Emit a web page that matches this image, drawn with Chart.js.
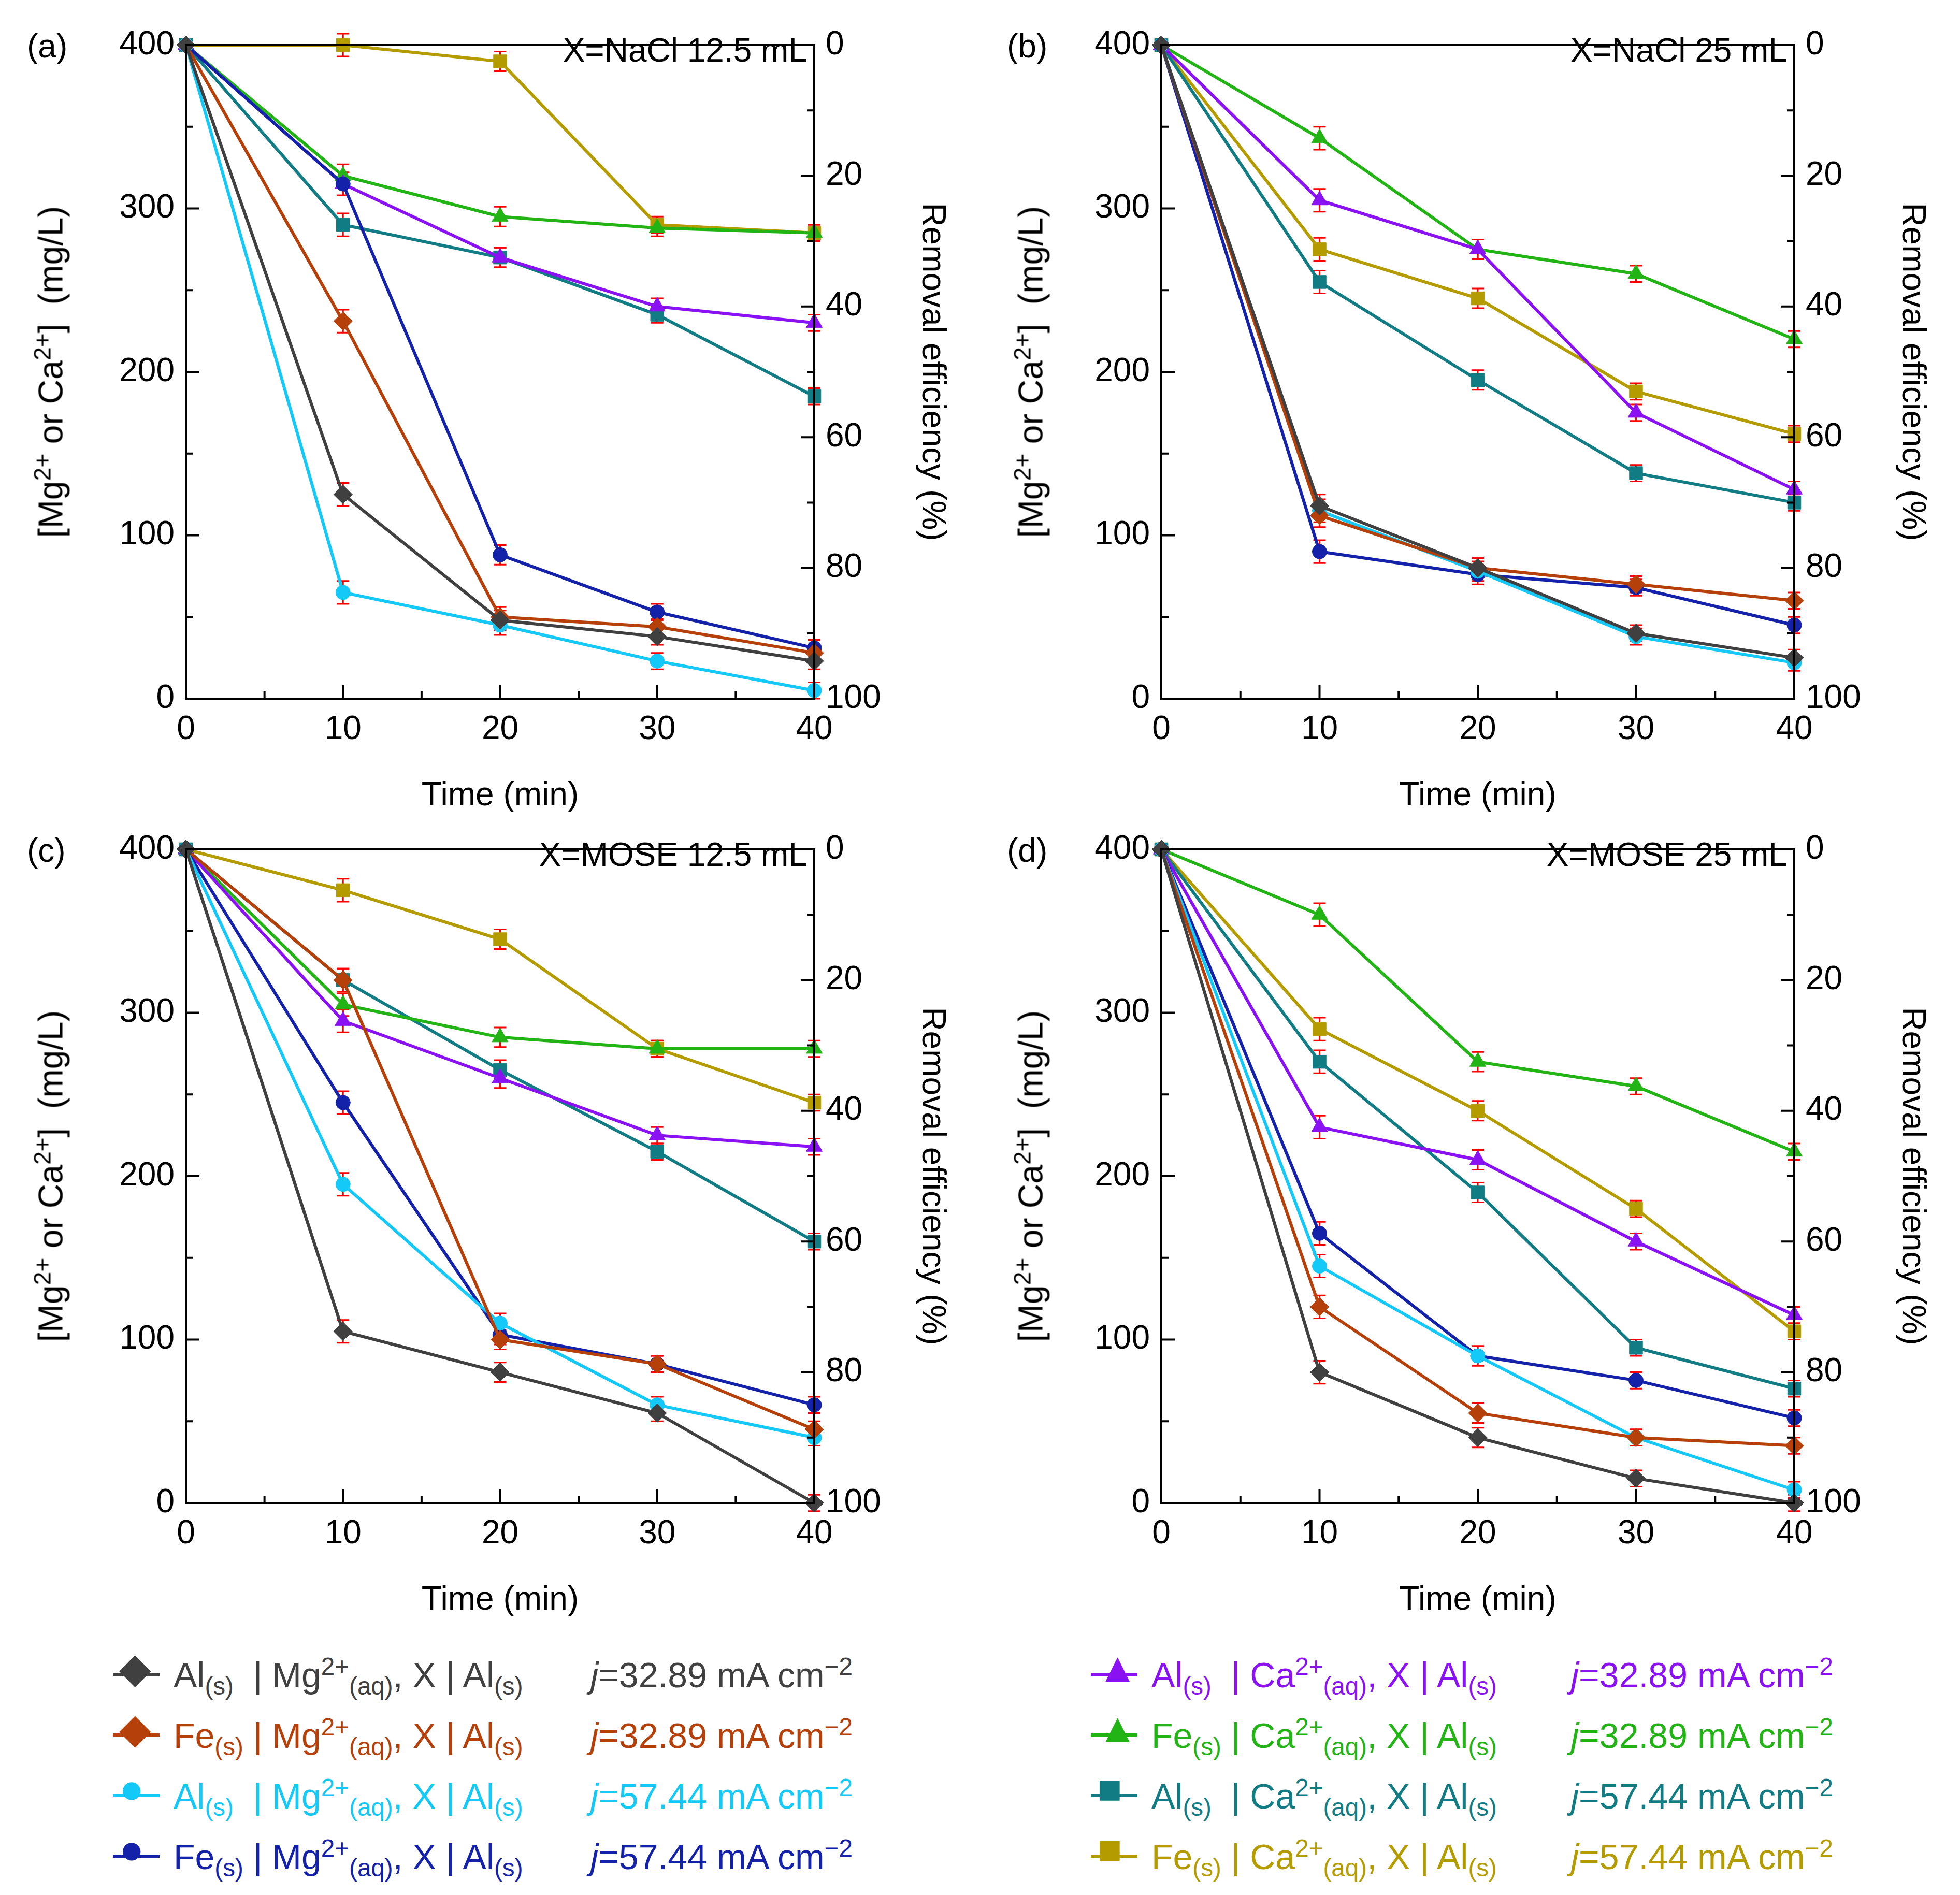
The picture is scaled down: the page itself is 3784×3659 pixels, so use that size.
<!DOCTYPE html>
<html lang="en">
<head>
<meta charset="UTF-8">
<title>Mg/Ca removal</title>
<script src="https://cdn.jsdelivr.net/npm/chart.js@4.4.0/dist/chart.umd.min.js"></script>
<style>
  body { margin: 0; background: #fff; font-family: "Liberation Sans", Arial, sans-serif; }
  #page { position: relative; width: 3784px; height: 3659px; }
  .pane { position: absolute; width: 1892px; height: 1620px; }
  .ytitle { position: absolute; font-size: 66px; white-space: nowrap; transform: translate(-50%, -50%) rotate(-90deg); }
  .tag { position: absolute; font-size: 64px; }
  .cond { position: absolute; font-size: 64px; text-align: right; line-height: 70px; }
  .leg { position: absolute; font-size: 68px; white-space: nowrap; }
  sup, sub { font-size: 70%; }
</style>
</head>
<body>
<div id="page"></div>
<script>
// time axis
var times = [0, 10, 20, 30, 40];
var seriesNames = ['AlMg33', 'FeMg33', 'AlMg57', 'FeMg57', 'AlCa33', 'FeCa33', 'AlCa57', 'FeCa57'];
var colors = ['#404040', '#b5400a', '#14c8f8', '#1322a8', '#8a12f2', '#22b414', '#127c84', '#b49c00'];
var shapes = ['rectRot', 'rectRot', 'circle', 'circle', 'triangle', 'triangle', 'rect', 'rect'];

// panel (a) X = NaCl 12.5 mL
var panelA = [
  [400, 125, 48, 38, 23],
  [400, 231, 50, 44, 28],
  [400, 65, 45, 23, 5],
  [400, 315, 88, 53, 31],
  [400, 315, 270, 240, 230],
  [400, 320, 295, 288, 285],
  [400, 290, 270, 235, 185],
  [400, 400, 390, 290, 285]
];
// panel (b) X = NaCl 25 mL
var panelB = [
  [400, 118, 80, 40, 25],
  [400, 112, 80, 70, 60],
  [400, 115, 78, 38, 22],
  [400, 90, 76, 68, 45],
  [400, 305, 275, 175, 128],
  [400, 343, 275, 260, 220],
  [400, 255, 195, 138, 120],
  [400, 275, 245, 188, 162]
];
// panel (c) X = MOSE 12.5 mL
var panelC = [
  [400, 105, 80, 55, 0],
  [400, 320, 100, 85, 45],
  [400, 195, 110, 60, 40],
  [400, 245, 103, 85, 60],
  [400, 295, 260, 225, 218],
  [400, 305, 285, 278, 278],
  [400, 320, 265, 215, 160],
  [400, 375, 345, 278, 245]
];
// panel (d) X = MOSE 25 mL
var panelD = [
  [400, 80, 40, 15, 0],
  [400, 120, 55, 40, 35],
  [400, 145, 90, 40, 8],
  [400, 165, 90, 75, 52],
  [400, 230, 210, 160, 115],
  [400, 360, 270, 255, 215],
  [400, 270, 190, 95, 70],
  [400, 290, 240, 180, 105]
];
var errSize = [0, 7, 6, 5, 5];

var panels = [
  { data: panelA, tag: '(a)', cond: 'X=NaCl 12.5 mL', left: 0, top: 0, lw: 359 },
  { data: panelB, tag: '(b)', cond: 'X=NaCl 25 mL', left: 1892, top: 0, lw: 350 },
  { data: panelC, tag: '(c)', cond: 'X=MOSE 12.5 mL', left: 0, top: 1553, lw: 359 },
  { data: panelD, tag: '(d)', cond: 'X=MOSE 25 mL', left: 1892, top: 1553, lw: 350 }
];

var legendRows = [
  { i: 0, x: 218, y: 3190, cat: 'Al<sub>(s)</sub>&nbsp;&nbsp;| Mg<sup>2+</sup><sub>(aq)</sub>, X | Al<sub>(s)</sub>', j: '32.89' },
  { i: 1, x: 218, y: 3307, cat: 'Fe<sub>(s)</sub> | Mg<sup>2+</sup><sub>(aq)</sub>, X | Al<sub>(s)</sub>', j: '32.89' },
  { i: 2, x: 218, y: 3424, cat: 'Al<sub>(s)</sub>&nbsp;&nbsp;| Mg<sup>2+</sup><sub>(aq)</sub>, X | Al<sub>(s)</sub>', j: '57.44' },
  { i: 3, x: 218, y: 3541, cat: 'Fe<sub>(s)</sub> | Mg<sup>2+</sup><sub>(aq)</sub>, X | Al<sub>(s)</sub>', j: '57.44' },
  { i: 4, x: 2106, y: 3190, cat: 'Al<sub>(s)</sub>&nbsp;&nbsp;| Ca<sup>2+</sup><sub>(aq)</sub>, X | Al<sub>(s)</sub>', j: '32.89' },
  { i: 5, x: 2106, y: 3307, cat: 'Fe<sub>(s)</sub> | Ca<sup>2+</sup><sub>(aq)</sub>, X | Al<sub>(s)</sub>', j: '32.89' },
  { i: 6, x: 2106, y: 3424, cat: 'Al<sub>(s)</sub>&nbsp;&nbsp;| Ca<sup>2+</sup><sub>(aq)</sub>, X | Al<sub>(s)</sub>', j: '57.44' },
  { i: 7, x: 2106, y: 3541, cat: 'Fe<sub>(s)</sub> | Ca<sup>2+</sup><sub>(aq)</sub>, X | Al<sub>(s)</sub>', j: '57.44' }
];

var FONT = { family: '"Liberation Sans", Arial, sans-serif', size: 64 };

// frame, inward ticks and error bars
var framePlugin = {
  id: 'frame',
  beforeDatasetsDraw: function(chart) {
    var c = chart.ctx;
    var x = chart.scales.x, y = chart.scales.y;
    c.save();
    c.strokeStyle = '#ff0000'; c.lineWidth = 3;
    chart.data.datasets.forEach(function(ds) {
      ds.data.forEach(function(p, k) {
        var e = errSize[k]; if (!e) return;
        var px = x.getPixelForValue(p.x);
        var t = y.getPixelForValue(p.y + e), b = y.getPixelForValue(p.y - e);
        c.beginPath();
        c.moveTo(px, t); c.lineTo(px, b);
        c.moveTo(px - 12, t); c.lineTo(px + 12, t);
        c.moveTo(px - 12, b); c.lineTo(px + 12, b);
        c.stroke();
      });
    });
    c.restore();
  },
  afterDraw: function(chart) {
    var c = chart.ctx, a = chart.chartArea;
    var x = chart.scales.x, y = chart.scales.y, y2 = chart.scales.y2;
    c.save();
    c.strokeStyle = '#000'; c.lineWidth = 4;
    c.strokeRect(a.left, a.top, a.right - a.left, a.bottom - a.top);
    c.beginPath();
    for (var v = 0; v <= 40; v += 5) {
      var px = x.getPixelForValue(v), L = v % 10 === 0 ? 26 : 14;
      c.moveTo(px, a.bottom); c.lineTo(px, a.bottom - L);
    }
    for (var w = 0; w <= 400; w += 50) {
      var py = y.getPixelForValue(w), L2 = w % 100 === 0 ? 26 : 14;
      c.moveTo(a.left, py); c.lineTo(a.left + L2, py);
    }
    for (var r = 0; r <= 100; r += 10) {
      var py2 = y2.getPixelForValue(r), L3 = r % 20 === 0 ? 26 : 14;
      c.moveTo(a.right, py2); c.lineTo(a.right - L3, py2);
    }
    c.stroke();
    c.restore();
  }
};

var page = document.getElementById('page');

panels.forEach(function(p) {
  var box = document.createElement('div');
  box.className = 'pane';
  box.style.left = p.left + 'px'; box.style.top = p.top + 'px';
  var cv = document.createElement('canvas');
  box.appendChild(cv);
  page.appendChild(box);

  var datasets = p.data.map(function(vals, i) {
    return {
      label: seriesNames[i],
      data: vals.map(function(v, k) { return { x: times[k], y: v }; }),
      borderColor: colors[i], backgroundColor: colors[i],
      borderWidth: 6, pointStyle: shapes[i],
      pointRadius: shapes[i] === 'circle' ? 14 : 18,
      pointBorderWidth: 1, clip: false, yAxisID: 'y'
    };
  });

  new Chart(cv, {
    type: 'line',
    data: { datasets: datasets },
    plugins: [framePlugin],
    options: {
      responsive: true, maintainAspectRatio: false, animation: false,
      layout: { padding: { top: 87, bottom: 44, right: 55 } },
      plugins: { legend: { display: false }, tooltip: { enabled: false } },
      scales: {
        x: {
          type: 'linear', min: 0, max: 40,
          grid: { display: false }, border: { display: false },
          ticks: { stepSize: 10, color: '#000', font: FONT, padding: 14, maxRotation: 0 },
          title: { display: true, text: 'Time (min)', color: '#000', font: FONT, padding: 0 },
          afterFit: function(s) { s.height = 227; }
        },
        y: {
          position: 'left', min: 0, max: 400,
          grid: { display: false }, border: { display: false },
          ticks: { stepSize: 100, color: '#000', font: FONT, padding: 14 },
          afterFit: function(s) { s.width = p.lw; }
        },
        y2: {
          position: 'right', min: 0, max: 100, reverse: true,
          grid: { display: false }, border: { display: false },
          ticks: { stepSize: 20, color: '#000', font: FONT, padding: 14 },
          title: { display: true, text: 'Removal efficiency (%)', color: '#000', font: FONT, padding: 0 },
          afterFit: function(s) { s.width = 265; }
        }
      }
    }
  });

  var yt = document.createElement('div');
  yt.className = 'ytitle';
  yt.style.left = (p.left + 95) + 'px';
  yt.style.top = (p.top + 718) + 'px';
  yt.innerHTML = '[Mg<sup>2+</sup> or Ca<sup>2+</sup>]&nbsp;&nbsp;(mg/L)';
  page.appendChild(yt);

  var tg = document.createElement('div');
  tg.className = 'tag';
  tg.style.left = (p.left + 52) + 'px'; tg.style.top = (p.top + 52) + 'px';
  tg.textContent = p.tag;
  page.appendChild(tg);

  var cd = document.createElement('div');
  cd.className = 'cond';
  cd.style.right = (3784 - (p.left + 1892 - 320) + 14) + 'px';
  cd.style.top = (p.top + 62) + 'px';
  cd.textContent = p.cond;
  page.appendChild(cd);
});

legendRows.forEach(function(r) {
  var d = document.createElement('div');
  d.className = 'leg';
  d.style.left = r.x + 'px'; d.style.top = r.y + 'px';
  d.style.color = colors[r.i];
  var glyph = { rectRot: '\u25C6', circle: '\u25CF', triangle: '\u25B2', rect: '\u25A0' }[shapes[r.i]];
  var jx = r.x < 1000 ? 922 : 927;
  d.innerHTML =
    '<span style="position:absolute;left:0;top:40px;width:90px;height:6px;background:' + colors[r.i] + '"></span>' +
    '<span style="position:absolute;left:12px;top:-16px;font-size:80px;">' + glyph + '</span>' +
    '<span style="position:absolute;left:117px;top:0;">' + r.cat + '</span>' +
    '<span style="position:absolute;left:' + jx + 'px;top:0;"><i>j</i>=' + r.j + ' mA cm<sup>\u22122</sup></span>';
  page.appendChild(d);
});
</script>
</body>
</html>
